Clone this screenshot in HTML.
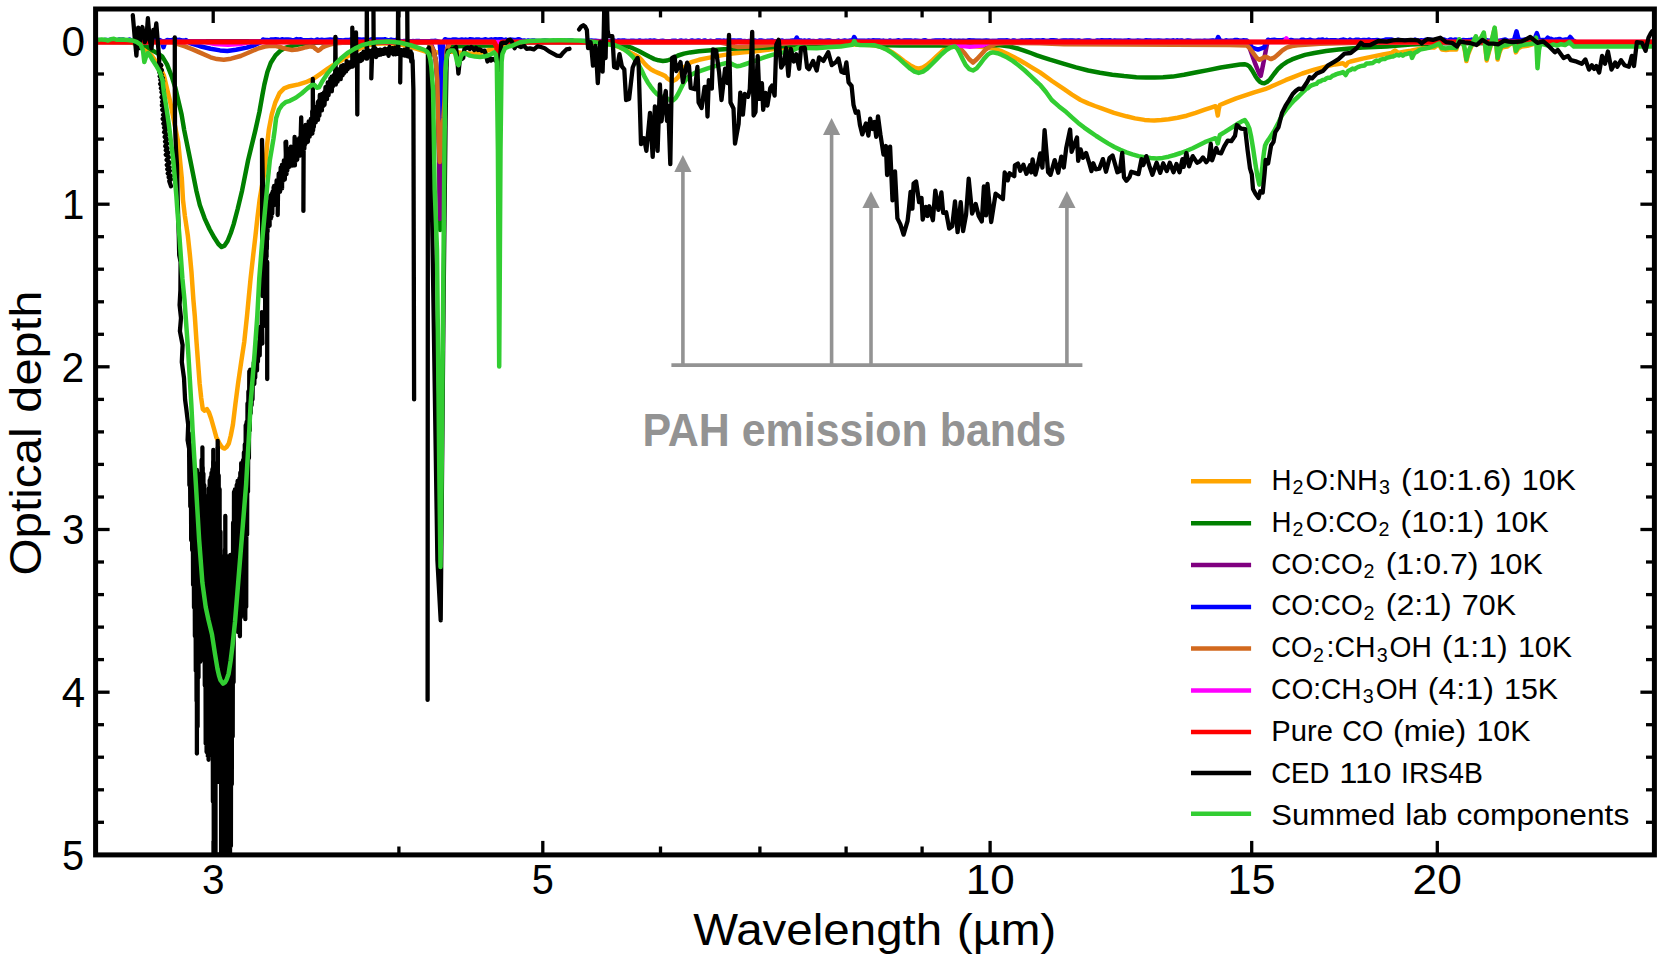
<!DOCTYPE html>
<html lang="en"><head><meta charset="utf-8"><title>Optical depth spectrum</title>
<style>html,body{margin:0;padding:0;background:#fff;}body{width:1661px;height:962px;overflow:hidden;}svg{display:block;}text{font-family:"Liberation Sans",sans-serif;}</style></head><body>
<svg width="1661" height="962" viewBox="0 0 1661 962">
<rect width="1661" height="962" fill="#fff"/>
<defs><clipPath id="ax"><rect x="95.6" y="9.0" width="1558.8" height="845.9"/></clipPath></defs>
<g stroke="#000" fill="none">
<line x1="213.2" y1="854.9" x2="213.2" y2="840.9" stroke-width="3.3"/>
<line x1="213.2" y1="9.0" x2="213.2" y2="23.0" stroke-width="3.3"/>
<line x1="542.8" y1="854.9" x2="542.8" y2="840.9" stroke-width="3.3"/>
<line x1="542.8" y1="9.0" x2="542.8" y2="23.0" stroke-width="3.3"/>
<line x1="990.1" y1="854.9" x2="990.1" y2="840.9" stroke-width="3.3"/>
<line x1="990.1" y1="9.0" x2="990.1" y2="23.0" stroke-width="3.3"/>
<line x1="1251.7" y1="854.9" x2="1251.7" y2="840.9" stroke-width="3.3"/>
<line x1="1251.7" y1="9.0" x2="1251.7" y2="23.0" stroke-width="3.3"/>
<line x1="1437.3" y1="854.9" x2="1437.3" y2="840.9" stroke-width="3.3"/>
<line x1="1437.3" y1="9.0" x2="1437.3" y2="23.0" stroke-width="3.3"/>
<line x1="398.9" y1="854.9" x2="398.9" y2="846.5" stroke-width="3.3"/>
<line x1="398.9" y1="9.0" x2="398.9" y2="17.4" stroke-width="3.3"/>
<line x1="660.5" y1="854.9" x2="660.5" y2="846.5" stroke-width="3.3"/>
<line x1="660.5" y1="9.0" x2="660.5" y2="17.4" stroke-width="3.3"/>
<line x1="759.9" y1="854.9" x2="759.9" y2="846.5" stroke-width="3.3"/>
<line x1="759.9" y1="9.0" x2="759.9" y2="17.4" stroke-width="3.3"/>
<line x1="846.1" y1="854.9" x2="846.1" y2="846.5" stroke-width="3.3"/>
<line x1="846.1" y1="9.0" x2="846.1" y2="17.4" stroke-width="3.3"/>
<line x1="922.1" y1="854.9" x2="922.1" y2="846.5" stroke-width="3.3"/>
<line x1="922.1" y1="9.0" x2="922.1" y2="17.4" stroke-width="3.3"/>
<line x1="95.6" y1="41.5" x2="109.6" y2="41.5" stroke-width="3.3"/>
<line x1="1654.4" y1="41.5" x2="1640.4" y2="41.5" stroke-width="3.3"/>
<line x1="95.6" y1="74.0" x2="104.0" y2="74.0" stroke-width="3.3"/>
<line x1="1654.4" y1="74.0" x2="1646.0" y2="74.0" stroke-width="3.3"/>
<line x1="95.6" y1="106.6" x2="104.0" y2="106.6" stroke-width="3.3"/>
<line x1="1654.4" y1="106.6" x2="1646.0" y2="106.6" stroke-width="3.3"/>
<line x1="95.6" y1="139.1" x2="104.0" y2="139.1" stroke-width="3.3"/>
<line x1="1654.4" y1="139.1" x2="1646.0" y2="139.1" stroke-width="3.3"/>
<line x1="95.6" y1="171.6" x2="104.0" y2="171.6" stroke-width="3.3"/>
<line x1="1654.4" y1="171.6" x2="1646.0" y2="171.6" stroke-width="3.3"/>
<line x1="95.6" y1="204.2" x2="109.6" y2="204.2" stroke-width="3.3"/>
<line x1="1654.4" y1="204.2" x2="1640.4" y2="204.2" stroke-width="3.3"/>
<line x1="95.6" y1="236.7" x2="104.0" y2="236.7" stroke-width="3.3"/>
<line x1="1654.4" y1="236.7" x2="1646.0" y2="236.7" stroke-width="3.3"/>
<line x1="95.6" y1="269.2" x2="104.0" y2="269.2" stroke-width="3.3"/>
<line x1="1654.4" y1="269.2" x2="1646.0" y2="269.2" stroke-width="3.3"/>
<line x1="95.6" y1="301.8" x2="104.0" y2="301.8" stroke-width="3.3"/>
<line x1="1654.4" y1="301.8" x2="1646.0" y2="301.8" stroke-width="3.3"/>
<line x1="95.6" y1="334.3" x2="104.0" y2="334.3" stroke-width="3.3"/>
<line x1="1654.4" y1="334.3" x2="1646.0" y2="334.3" stroke-width="3.3"/>
<line x1="95.6" y1="366.8" x2="109.6" y2="366.8" stroke-width="3.3"/>
<line x1="1654.4" y1="366.8" x2="1640.4" y2="366.8" stroke-width="3.3"/>
<line x1="95.6" y1="399.4" x2="104.0" y2="399.4" stroke-width="3.3"/>
<line x1="1654.4" y1="399.4" x2="1646.0" y2="399.4" stroke-width="3.3"/>
<line x1="95.6" y1="431.9" x2="104.0" y2="431.9" stroke-width="3.3"/>
<line x1="1654.4" y1="431.9" x2="1646.0" y2="431.9" stroke-width="3.3"/>
<line x1="95.6" y1="464.4" x2="104.0" y2="464.4" stroke-width="3.3"/>
<line x1="1654.4" y1="464.4" x2="1646.0" y2="464.4" stroke-width="3.3"/>
<line x1="95.6" y1="497.0" x2="104.0" y2="497.0" stroke-width="3.3"/>
<line x1="1654.4" y1="497.0" x2="1646.0" y2="497.0" stroke-width="3.3"/>
<line x1="95.6" y1="529.5" x2="109.6" y2="529.5" stroke-width="3.3"/>
<line x1="1654.4" y1="529.5" x2="1640.4" y2="529.5" stroke-width="3.3"/>
<line x1="95.6" y1="562.0" x2="104.0" y2="562.0" stroke-width="3.3"/>
<line x1="1654.4" y1="562.0" x2="1646.0" y2="562.0" stroke-width="3.3"/>
<line x1="95.6" y1="594.6" x2="104.0" y2="594.6" stroke-width="3.3"/>
<line x1="1654.4" y1="594.6" x2="1646.0" y2="594.6" stroke-width="3.3"/>
<line x1="95.6" y1="627.1" x2="104.0" y2="627.1" stroke-width="3.3"/>
<line x1="1654.4" y1="627.1" x2="1646.0" y2="627.1" stroke-width="3.3"/>
<line x1="95.6" y1="659.6" x2="104.0" y2="659.6" stroke-width="3.3"/>
<line x1="1654.4" y1="659.6" x2="1646.0" y2="659.6" stroke-width="3.3"/>
<line x1="95.6" y1="692.2" x2="109.6" y2="692.2" stroke-width="3.3"/>
<line x1="1654.4" y1="692.2" x2="1640.4" y2="692.2" stroke-width="3.3"/>
<line x1="95.6" y1="724.7" x2="104.0" y2="724.7" stroke-width="3.3"/>
<line x1="1654.4" y1="724.7" x2="1646.0" y2="724.7" stroke-width="3.3"/>
<line x1="95.6" y1="757.2" x2="104.0" y2="757.2" stroke-width="3.3"/>
<line x1="1654.4" y1="757.2" x2="1646.0" y2="757.2" stroke-width="3.3"/>
<line x1="95.6" y1="789.8" x2="104.0" y2="789.8" stroke-width="3.3"/>
<line x1="1654.4" y1="789.8" x2="1646.0" y2="789.8" stroke-width="3.3"/>
<line x1="95.6" y1="822.3" x2="104.0" y2="822.3" stroke-width="3.3"/>
<line x1="1654.4" y1="822.3" x2="1646.0" y2="822.3" stroke-width="3.3"/>
<line x1="95.6" y1="854.8" x2="109.6" y2="854.8" stroke-width="3.3"/>
<line x1="1654.4" y1="854.8" x2="1640.4" y2="854.8" stroke-width="3.3"/>
</g>
<g clip-path="url(#ax)" fill="none" stroke-linejoin="round" stroke-linecap="butt">
<polyline points="98.0,42.0 130.0,42.4 137.0,44.0 143.0,48.2 147.9,51.4 152.0,56.0 156.0,61.5 160.0,67.0 164.0,76.0 167.7,91.6 169.8,100.0 172.4,113.0 175.4,128.0 178.2,142.2 180.0,160.0 181.8,178.4 183.0,200.0 184.9,216.0 187.9,236.2 189.8,254.0 191.5,272.3 193.4,300.0 194.8,316.0 196.5,341.6 198.0,362.0 199.6,383.2 201.2,398.0 202.8,409.2 204.6,410.6 206.9,409.1 209.0,412.5 211.1,418.5 213.8,428.0 216.3,437.2 219.0,442.6 221.5,446.6 223.2,448.2 224.6,448.6 226.6,447.0 228.8,443.5 230.8,435.5 232.9,424.7 235.4,404.0 238.1,383.2 241.2,362.0 244.3,341.6 247.0,316.0 248.8,297.0 250.6,278.4 253.0,257.0 255.4,236.2 257.4,218.0 259.6,200.0 261.8,187.0 264.4,172.3 266.0,157.0 267.4,142.2 268.8,130.0 271.7,114.6 275.4,102.2 279.7,92.8 284.1,88.4 289.9,86.2 298.7,84.4 305.9,82.2 313.2,78.9 320.5,73.8 327.8,68.7 335.1,64.0 342.3,60.0 347.5,56.5 355.0,51.0 362.0,47.4 369.0,45.0 376.0,43.8 390.0,43.2 400.0,44.4 412.0,47.4 425.0,51.4 438.0,52.5 450.0,51.4 470.0,53.8 480.0,53.0 488.0,50.4 494.0,48.4 505.0,45.0 520.0,42.6 540.0,41.4 580.0,41.4 600.0,42.8 608.0,44.0 614.7,45.4 619.5,47.2 624.3,49.6 631.0,53.0 638.8,56.9 641.8,60.3 644.8,63.9 647.8,66.8 650.8,69.3 654.4,71.3 658.1,72.9 661.7,74.4 665.3,76.1 667.2,78.4 670.3,80.2 673.3,80.8 675.7,79.6 678.1,77.2 681.1,72.2 684.1,67.5 687.7,64.4 691.3,62.1 699.0,59.8 708.2,57.9 720.0,55.6 732.3,53.6 744.0,52.3 756.4,51.2 768.0,49.8 780.5,48.2 792.0,46.9 804.7,45.8 816.0,45.0 830.0,44.6 860.0,44.6 874.0,45.2 880.0,46.5 886.0,48.8 892.0,52.2 898.0,56.4 904.0,61.0 910.0,65.2 914.5,67.6 918.7,68.7 923.0,67.5 927.0,65.0 932.0,60.6 937.0,56.0 941.5,51.8 946.0,48.0 950.5,46.0 955.0,45.0 960.0,45.0 965.0,45.5 974.0,46.2 982.6,47.0 988.6,47.7 994.7,48.8 1000.7,50.9 1006.7,53.6 1012.7,56.5 1018.8,59.7 1024.8,63.2 1030.8,66.9 1040.0,72.4 1052.0,81.0 1064.1,89.2 1072.0,94.6 1080.6,100.0 1088.2,103.4 1095.0,106.0 1102.3,108.6 1114.0,112.8 1126.4,116.3 1135.0,118.4 1144.5,119.9 1149.4,120.3 1154.2,120.5 1161.4,120.1 1168.6,119.3 1177.6,117.8 1186.7,115.7 1195.7,112.8 1204.8,109.6 1210.3,107.8 1215.4,106.2 1216.6,109.0 1217.8,115.5 1218.8,109.0 1219.9,105.0 1228.0,101.6 1236.2,98.4 1245.2,95.4 1254.2,92.4 1265.0,89.2 1275.3,84.8 1285.5,80.2 1293.9,76.8 1302.3,73.5 1314.4,69.6 1326.4,66.3 1335.0,64.4 1343.0,63.2 1345.7,65.6 1348.0,62.5 1350.6,61.5 1362.6,58.6 1374.7,56.1 1383.0,54.5 1391.5,53.0 1393.4,51.5 1395.2,50.6 1396.6,51.6 1398.0,53.0 1404.4,51.6 1410.8,50.6 1416.8,49.4 1422.9,48.2 1430.0,47.6 1434.0,47.6 1438.9,44.1 1441.8,49.5 1446.0,50.0 1451.0,49.2 1456.3,49.5 1459.2,39.8 1461.2,42.2 1463.5,44.1 1465.0,51.6 1466.4,61.1 1468.0,54.6 1470.0,49.5 1473.0,42.6 1475.9,36.9 1478.0,44.1 1481.0,38.6 1483.8,33.2 1485.2,46.6 1486.7,60.4 1489.0,51.6 1491.1,44.1 1493.0,35.6 1494.7,28.2 1496.2,43.6 1497.6,59.6 1499.4,52.6 1501.3,48.0 1504.0,47.0 1507.1,46.6 1510.6,44.0 1514.3,42.7 1515.8,52.4 1518.0,48.6 1521.6,46.6 1527.4,45.8 1533.2,44.1" stroke="#ffa500" stroke-width="4.5" />
<polyline points="98.0,42.0 132.0,42.2 140.0,43.4 146.0,46.0 152.7,50.6 158.0,53.6 162.3,56.7 167.0,64.4 172.0,77.2 175.4,88.0 178.2,100.0 181.6,114.5 184.2,130.1 190.3,160.3 196.3,190.4 199.8,205.0 204.7,218.6 209.5,229.0 214.4,237.8 218.4,244.0 221.6,247.0 224.6,245.6 227.6,241.0 230.8,233.0 233.7,224.1 237.8,208.5 242.1,190.4 248.1,160.3 255.4,130.1 259.4,112.0 262.4,95.0 264.4,84.4 267.4,72.0 270.8,62.7 275.5,55.4 280.5,50.6 285.0,48.0 290.0,46.4 297.0,44.8 306.0,43.6 320.0,42.6 428.0,42.6 433.2,50.0 435.7,60.0 437.3,80.0 438.2,116.0 439.2,160.0 440.2,230.0 441.4,190.0 443.2,118.0 444.6,100.0 445.4,72.0 447.4,50.0 451.0,46.4 470.0,45.8 494.0,45.6 500.0,43.0 520.0,42.4 600.0,42.6 611.0,43.4 620.7,44.6 626.8,46.2 632.7,48.2 638.8,51.0 644.8,54.2 649.6,56.8 654.4,59.1 658.6,60.3 662.9,60.9 667.2,60.5 672.0,58.8 678.1,55.5 684.0,53.6 690.1,52.4 699.0,51.3 708.2,50.6 720.0,49.6 732.3,48.8 750.0,48.1 768.5,47.6 780.0,46.6 792.6,45.2 804.0,44.4 816.7,44.0 850.0,43.6 874.0,45.0 900.0,45.6 946.0,45.6 980.0,45.0 1000.7,45.2 1010.0,46.6 1018.8,48.8 1024.8,50.8 1030.8,53.0 1036.9,55.3 1042.9,57.3 1050.0,59.7 1064.1,63.9 1076.0,67.4 1088.2,70.5 1100.0,72.8 1112.3,74.7 1124.0,76.1 1136.4,77.2 1146.0,77.5 1154.5,77.5 1163.0,77.2 1172.6,76.6 1184.0,74.8 1196.7,72.3 1208.0,70.1 1220.8,67.5 1232.0,65.8 1240.0,64.5 1244.5,64.3 1247.0,64.9 1249.3,66.3 1252.3,70.6 1255.3,75.9 1257.7,79.4 1260.1,82.0 1262.3,83.0 1264.4,83.2 1267.0,82.0 1269.8,79.6 1274.0,74.0 1278.2,68.7 1282.4,65.0 1286.7,62.1 1292.0,59.4 1297.5,57.3 1305.0,54.9 1314.4,53.0 1326.0,51.0 1338.5,49.4 1350.0,48.4 1362.6,47.6 1386.7,46.4 1410.8,44.6 1440.0,43.2 1574.5,43.0 1652.0,43.0" stroke="#008000" stroke-width="4.5" />
<polyline points="98.0,41.3 430.0,41.3 433.4,50.0 435.8,60.0 437.4,80.0 438.4,116.0 439.2,160.0 440.0,219.0 441.4,170.0 443.2,118.0 444.6,100.0 445.4,72.0 447.0,50.0 449.0,41.3 1246.0,40.9 1249.3,47.0 1255.3,63.9 1259.2,73.5 1260.7,75.9 1262.0,70.0 1264.4,57.9 1266.8,45.2 1268.0,40.9 1574.5,40.9 1576.0,43.4 1652.0,43.4" stroke="#800080" stroke-width="4.5" />
<polyline points="98.0,40.0 100.1,40.2 102.2,40.7 104.3,40.1 106.4,40.1 108.5,40.2 110.6,39.7 112.7,40.1 114.8,40.3 116.9,40.5 119.0,39.5 121.1,39.8 123.2,39.5 125.3,40.5 127.4,40.4 129.5,39.5 131.6,40.8 133.7,40.8 135.8,40.3 137.9,40.3 140.0,39.6 142.1,39.4 144.2,40.1 146.3,39.5 148.4,39.7 150.5,39.7 152.6,39.4 154.7,40.0 156.8,40.0 158.9,40.6 160.0,40.1 161.5,41.0 163.5,47.2 165.5,41.0 167.0,40.1 169.1,40.3 171.2,40.3 173.3,39.6 175.4,39.4 177.5,39.9 179.6,39.8 181.7,40.5 183.8,40.4 185.9,40.2 186.0,40.1 190.0,43.0 200.0,46.2 210.6,48.8 220.0,50.4 227.4,50.9 236.0,49.8 246.7,47.6 255.0,45.0 261.2,42.0 263.0,39.5 265.1,40.1 267.2,40.1 269.3,40.3 271.4,39.4 273.5,39.4 275.6,39.3 277.7,39.4 279.8,40.1 281.9,39.3 284.0,39.8 286.1,39.4 288.2,39.5 290.3,39.7 292.4,40.3 294.5,40.0 296.6,39.1 298.7,39.5 300.8,39.3 302.9,40.3 305.0,40.2 307.1,40.2 309.2,40.3 311.3,40.1 313.4,40.4 315.5,40.2 317.6,39.5 319.7,40.3 321.8,39.8 323.9,40.2 326.0,39.9 328.1,39.7 330.2,39.6 332.3,39.7 334.4,39.5 336.5,39.3 338.6,40.2 340.7,40.2 342.8,40.5 344.9,40.1 347.0,39.9 349.1,40.1 351.2,39.3 353.3,40.0 355.4,39.7 357.5,39.3 359.6,39.4 361.7,39.8 363.8,39.5 365.9,39.7 368.0,39.9 370.1,39.7 372.2,39.3 374.3,39.8 376.4,39.4 378.5,39.4 380.6,39.4 382.7,39.6 384.8,39.2 386.9,40.0 389.0,40.4 391.1,39.6 393.2,40.1 395.3,40.4 397.4,39.2 398.0,39.8 400.0,41.1 402.1,41.4 404.2,40.9 406.3,41.0 408.4,41.1 410.5,41.5 412.6,41.1 414.7,41.3 416.8,40.9 418.9,40.9 421.0,41.4 423.1,41.2 425.2,41.4 427.3,41.2 429.4,41.2 431.5,41.0 433.6,41.0 435.7,40.8 437.0,41.2 439.6,42.0 441.1,60.0 441.4,118.0 441.7,60.0 443.2,42.0 445.0,39.2 447.1,39.9 449.2,39.9 451.3,40.2 453.4,39.4 455.5,39.4 457.6,40.0 459.7,39.9 461.8,39.5 463.9,39.9 466.0,39.6 468.1,40.0 470.2,39.2 472.3,39.4 474.4,40.2 476.5,39.5 478.6,39.4 480.7,40.1 482.8,39.9 484.9,39.3 487.0,39.8 489.1,39.9 491.2,39.3 493.3,39.9 495.4,39.2 497.5,39.5 499.6,39.2 501.7,39.3 503.8,40.3 505.9,39.6 508.0,40.3 510.1,39.6 512.2,39.8 514.3,40.1 516.4,39.9 518.5,39.2 520.0,39.7 522.0,40.9 524.1,40.4 526.2,41.2 528.3,40.5 530.4,41.1 532.5,40.4 534.6,40.6 536.7,41.0 538.8,41.1 540.9,41.3 543.0,40.8 545.1,40.6 547.2,40.7 549.3,41.2 551.4,41.2 553.5,40.6 555.6,41.2 557.7,40.7 559.8,40.6 561.9,41.2 564.0,40.6 566.1,40.9 568.2,40.6 570.3,40.6 572.4,40.5 574.5,41.3 576.6,41.2 578.7,41.2 580.8,41.1 582.9,41.0 585.0,40.9 587.1,41.0 589.2,40.8 591.3,40.5 593.4,40.7 595.5,40.7 597.6,41.0 599.7,41.3 601.8,40.9 603.9,40.8 606.0,40.7 608.1,41.0 610.2,41.1 612.3,40.9 614.4,40.6 616.5,41.3 618.6,40.4 620.7,40.7 622.8,40.4 624.9,40.6 627.0,41.0 629.1,41.1 631.2,40.7 633.3,40.7 635.4,41.0 637.5,41.1 639.6,40.4 641.7,41.1 643.8,40.9 645.9,40.8 648.0,40.9 650.1,40.5 652.2,41.0 654.3,40.5 656.4,41.1 658.5,41.4 660.6,41.0 662.7,40.8 664.8,41.2 666.9,41.4 669.0,41.2 671.1,41.0 673.2,40.7 675.3,40.7 677.4,41.4 679.5,40.8 681.6,40.6 683.7,41.1 685.8,40.7 687.9,41.4 690.0,41.0 692.1,40.5 694.2,41.1 696.3,41.0 698.4,40.4 700.5,41.0 702.6,41.2 704.7,40.4 706.8,41.4 708.9,41.3 711.0,40.8 713.1,41.4 715.2,41.4 717.3,40.4 719.4,40.4 721.5,41.0 723.6,40.6 725.7,40.9 727.8,40.6 729.9,40.7 732.0,40.5 734.1,40.6 736.2,40.8 738.3,40.6 740.4,40.4 742.5,41.3 744.6,40.9 746.7,41.4 748.8,40.9 750.9,41.1 753.0,40.8 755.1,40.5 757.2,41.4 759.3,40.6 761.4,40.5 763.5,40.9 765.6,41.3 767.7,40.7 769.8,40.7 771.9,40.4 774.0,41.4 776.1,41.4 778.2,41.1 780.3,41.0 782.4,40.5 784.5,41.3 786.6,40.9 788.7,41.1 790.8,40.7 792.9,40.5 795.0,40.9 796.8,37.6 798.5,41.4 800.6,40.4 802.7,41.2 804.8,40.5 806.9,41.4 809.0,40.4 811.1,41.3 813.2,41.1 815.3,41.3 817.4,41.4 819.5,40.6 821.6,40.7 823.7,41.1 825.8,40.7 827.9,40.6 830.0,40.6 832.1,41.3 834.2,41.3 836.3,41.2 838.4,40.6 840.5,41.4 842.6,40.9 844.7,40.6 846.8,40.9 848.9,40.8 851.0,40.4 852.5,40.9 854.2,37.0 856.0,40.6 858.1,40.8 860.2,40.7 862.3,40.7 864.4,40.7 866.5,41.0 868.6,40.5 870.7,40.9 872.8,40.3 874.9,40.6 877.0,40.6 879.1,40.4 881.2,41.1 883.3,40.6 885.4,41.1 887.5,41.3 889.6,40.5 891.7,41.2 893.8,41.1 895.9,41.0 898.0,40.3 900.1,40.8 902.2,40.9 904.3,40.6 906.4,40.5 908.5,40.6 910.6,40.5 912.7,41.1 914.8,40.6 916.9,40.7 919.0,41.0 921.1,41.3 923.2,40.6 925.3,40.3 927.4,41.3 929.5,41.2 931.6,41.1 933.7,40.8 935.8,40.5 937.9,40.4 940.0,40.6 942.1,40.8 944.2,40.3 946.3,41.0 948.4,41.1 950.5,40.3 952.6,41.2 954.7,40.8 956.8,41.3 958.9,40.8 961.0,41.1 963.1,40.7 965.2,40.9 967.3,40.8 969.4,40.3 971.5,40.4 973.6,40.5 975.7,40.7 977.8,40.7 979.9,40.8 982.0,41.0 984.1,40.7 986.2,40.6 988.3,40.8 990.4,41.3 992.5,41.1 994.6,41.0 996.7,41.1 998.8,40.5 1000.9,40.4 1003.0,40.4 1005.1,40.4 1007.2,40.3 1009.3,40.9 1011.4,41.3 1013.5,40.4 1015.6,41.0 1017.7,41.3 1019.8,41.1 1021.9,40.4 1024.0,41.0 1026.1,40.5 1028.2,40.4 1030.3,40.3 1032.4,40.8 1034.5,41.3 1036.6,40.4 1038.7,40.4 1040.8,40.7 1042.9,40.3 1045.0,40.8 1047.1,41.1 1049.2,40.8 1051.3,40.3 1053.4,40.3 1055.5,40.5 1057.6,41.0 1059.7,41.3 1061.8,40.8 1063.9,40.4 1066.0,40.5 1068.1,40.7 1070.2,40.4 1072.3,40.4 1074.4,40.7 1076.5,41.2 1078.6,40.5 1080.7,41.2 1082.8,41.2 1084.9,40.7 1087.0,40.5 1089.1,40.5 1091.2,41.0 1093.3,41.2 1095.4,41.2 1097.5,40.5 1099.6,40.7 1101.7,40.3 1103.8,40.6 1105.9,40.6 1108.0,40.4 1110.1,40.3 1112.2,41.3 1114.3,40.6 1116.4,40.8 1118.5,40.8 1120.6,40.8 1122.7,40.9 1124.8,40.8 1126.9,40.8 1129.0,40.3 1131.1,40.9 1133.2,41.0 1135.3,41.0 1137.4,40.6 1139.5,40.8 1141.6,41.1 1143.7,41.1 1145.8,40.3 1147.9,40.6 1150.0,40.4 1152.1,41.0 1154.2,40.7 1156.3,40.7 1158.4,40.5 1160.5,40.7 1162.6,41.0 1164.7,40.9 1166.8,40.5 1168.9,40.7 1171.0,40.9 1173.1,40.3 1175.2,41.2 1177.3,40.3 1179.4,40.9 1181.5,40.4 1183.6,41.3 1185.7,41.0 1187.8,40.5 1189.9,40.8 1192.0,41.2 1194.1,41.2 1196.2,41.0 1198.3,41.0 1200.4,41.1 1202.5,41.3 1204.6,40.8 1206.7,40.9 1208.8,41.1 1210.9,40.8 1213.0,40.5 1215.1,40.9 1216.5,40.8 1218.2,37.0 1220.0,40.6 1222.1,41.0 1224.2,41.2 1226.3,40.3 1228.4,40.9 1230.5,40.8 1232.6,40.8 1234.7,40.1 1236.8,40.0 1238.9,40.5 1241.0,40.9 1243.1,40.3 1245.2,40.6 1247.0,40.6 1249.5,43.0 1252.0,47.5 1258.0,49.6 1264.0,47.5 1266.5,42.0 1268.0,39.7 1270.1,40.5 1272.2,39.9 1274.3,39.7 1276.4,40.2 1278.5,40.2 1280.6,40.2 1282.7,40.1 1284.8,39.8 1286.9,39.8 1289.0,40.5 1291.1,39.9 1293.2,40.5 1295.3,40.7 1297.4,40.8 1299.5,40.9 1301.6,39.8 1303.7,39.8 1305.8,40.6 1307.9,40.3 1310.0,39.7 1312.1,40.5 1314.2,40.8 1316.3,40.7 1318.4,39.7 1320.5,39.9 1322.6,39.4 1324.7,41.0 1326.8,39.8 1328.9,40.6 1331.0,40.3 1333.1,40.3 1335.2,40.2 1337.3,40.7 1339.4,40.4 1341.5,39.9 1343.6,39.6 1345.7,40.2 1347.8,40.9 1349.9,39.6 1352.0,40.5 1354.1,40.4 1356.2,39.7 1358.3,39.7 1360.4,40.5 1362.5,40.1 1364.6,40.1 1366.7,40.2 1368.8,39.6 1370.9,40.5 1373.0,40.3 1375.1,40.3 1377.2,39.9 1379.3,40.7 1381.4,40.7 1383.5,40.3 1385.6,39.5 1387.7,39.6 1389.8,39.6 1391.9,39.5 1394.0,40.4 1396.1,40.3 1398.2,39.7 1400.3,40.9 1402.4,40.4 1404.5,40.7 1406.6,40.7 1408.7,40.5 1410.8,40.2 1412.9,41.0 1415.0,39.6 1417.1,40.5 1419.2,40.8 1421.3,40.2 1423.4,40.7 1425.5,39.7 1427.6,40.1 1429.7,39.8 1431.8,40.0 1433.9,40.5 1436.0,39.6 1438.1,39.9 1440.2,40.8 1442.3,39.9 1444.4,39.6 1446.5,41.0 1448.6,40.3 1450.7,39.4 1452.8,40.3 1454.9,39.6 1457.0,39.7 1459.1,40.6 1461.2,40.4 1463.3,40.1 1465.4,40.2 1467.5,40.3 1469.6,40.1 1471.7,39.6 1473.8,40.6 1475.9,40.6 1478.0,40.1 1480.1,40.0 1482.2,40.4 1484.3,40.2 1486.4,40.1 1488.5,40.8 1490.6,40.8 1492.7,39.6 1494.8,39.7 1496.9,40.7 1499.0,40.9 1501.1,40.6 1503.2,39.9 1505.3,39.5 1507.4,40.7 1509.5,40.9 1511.6,40.6 1513.7,40.6 1514.0,40.2 1515.8,34.0 1516.5,31.4 1517.2,34.0 1518.4,38.6 1520.0,39.9 1522.1,40.1 1524.2,39.6 1526.3,39.6 1528.4,39.4 1530.5,40.5 1532.6,39.2 1534.6,39.6 1536.1,35.0 1536.8,33.2 1537.5,35.0 1538.6,39.0 1540.5,40.3 1542.6,39.9 1544.7,40.1 1546.0,39.6 1547.7,37.6 1549.5,39.4 1551.0,38.8 1553.1,39.7 1555.2,39.6 1557.3,39.4 1559.4,38.9 1561.5,39.9 1563.6,40.0 1565.7,39.4 1567.8,39.4 1568.5,39.4 1570.2,37.0 1572.0,39.2 1574.5,42.9 1652.0,43.0" stroke="#0000ff" stroke-width="4.5" />
<polyline points="98.0,42.2 172.0,42.2 178.0,44.0 185.0,46.4 192.6,49.4 200.0,52.6 210.6,57.3 217.0,59.1 223.8,59.7 231.0,58.7 240.7,56.0 250.0,52.0 258.8,48.2 265.0,46.6 270.8,45.8 276.0,46.1 280.0,47.0 286.0,48.9 292.0,50.0 297.0,49.6 302.0,48.4 306.0,47.2 310.1,46.4 313.5,47.0 316.0,49.2 318.3,50.8 320.5,49.2 322.5,47.4 324.6,46.4 329.0,44.8 334.0,43.6 345.0,42.4 426.0,42.4 430.0,44.0 433.2,50.0 435.7,60.0 437.3,80.0 438.2,116.0 438.8,140.0 439.7,162.0 441.6,135.0 443.4,118.0 444.6,100.0 445.4,72.0 447.0,50.0 450.0,42.4 720.0,42.6 727.5,44.0 734.7,46.4 738.4,47.1 744.4,46.8 752.0,46.4 762.5,45.8 775.0,44.2 790.0,43.0 940.0,43.0 950.0,43.4 956.0,45.2 960.0,48.4 964.5,53.0 969.0,59.0 973.0,62.7 977.0,59.0 981.4,54.2 985.6,49.6 989.8,46.4 996.0,43.8 1005.0,43.0 1040.0,43.2 1064.0,44.3 1230.0,44.9 1246.9,45.6 1249.6,48.0 1254.1,54.2 1257.0,58.2 1259.5,59.7 1262.4,58.2 1265.0,56.7 1268.0,57.7 1271.0,59.1 1274.6,57.4 1278.2,54.2 1282.4,50.4 1286.7,47.6 1292.0,46.0 1297.5,45.2 1320.0,43.8 1360.0,42.8 1574.5,42.4 1652.0,42.6" stroke="#d2691e" stroke-width="4.5" />
<polyline points="98.0,42.0 205.0,42.0 215.0,44.0 228.0,44.8 240.0,44.0 250.0,42.0 950.0,42.0 958.0,45.6 970.0,46.8 982.0,45.6 990.0,42.0 1284.4,42.0 1285.8,39.4 1286.4,38.4 1287.0,39.4 1288.4,42.0 1652.0,42.0" stroke="#ff00ff" stroke-width="4.5" />
<polyline points="98.0,41.9 494.1,41.9 496.6,47.0 498.6,65.7 500.4,47.0 502.0,41.9 1652.0,41.9" stroke="#ff0000" stroke-width="5.0" />
<polyline points="132.8,15.1 134.6,36.0 136.4,55.5 138.2,27.7 139.4,48.2 140.6,31.0 142.4,27.1 144.8,42.2 146.6,36.0 147.9,18.1 149.7,40.0 151.5,48.2 153.3,30.0 154.8,36.0 156.3,23.5 157.8,42.0 159.3,60.3 158.8,63.0 161.4,65.4 159.1,67.6 161.9,70.2 159.3,72.4 161.6,74.3 159.6,76.3 162.7,78.0 160.3,79.9 163.2,81.5 160.1,84.0 162.7,86.3 160.8,88.3 163.8,90.1 161.4,92.1 163.5,94.7 161.5,97.4 164.1,99.7 162.1,101.8 164.8,103.5 161.8,105.4 165.2,107.2 162.2,109.9 165.2,112.4 163.0,114.9 165.7,117.1 162.6,118.9 165.6,121.6 163.3,123.6 166.4,125.7 164.0,127.7 166.5,129.4 164.0,132.2 166.7,134.4 164.6,136.9 167.1,139.3 165.0,141.6 167.2,143.4 165.2,146.1 167.6,148.4 165.7,150.2 168.4,152.7 165.7,154.8 169.0,157.2 166.5,159.9 169.7,162.7 166.7,165.0 169.7,167.2 167.2,169.1 169.9,170.9 167.7,173.5 171.0,175.7 168.6,177.3 171.1,179.3 169.2,181.1 170.6,185.0 171.0,186.2" stroke="#000" stroke-width="4.3" stroke-linecap="round"/>
<polyline points="174.8,37.4 174.8,90.0 175.0,125.0 176.0,150.0 177.0,165.0 177.4,184.4 177.7,200.0 178.8,236.0 179.2,255.0 180.6,262.0 180.4,290.0 179.6,305.0 181.0,318.0 179.9,331.2 182.6,345.0 181.8,362.0 184.0,378.0 185.1,399.8 186.2,408.0 188.2,424.7 187.6,440.0 189.8,452.0 191.3,476.7" stroke="#000" stroke-width="4.3" stroke-linecap="round"/>
<polyline points="189.0,433.3 189.4,485.2 189.9,444.2 190.3,506.6 190.8,456.8 191.2,540.2 191.7,457.2 192.2,550.3 192.6,469.6 193.1,585.1 193.5,487.4 194.0,607.5 194.4,491.5 194.9,636.2 195.3,495.0 195.8,670.9 196.2,501.3 196.7,701.1 197.1,504.4 197.6,726.5 198.0,498.1 198.5,677.5 198.9,490.9 199.4,653.2 199.8,476.1 200.3,661.8 200.7,473.3 201.2,652.3 201.6,459.9 202.1,639.7 202.5,467.8 203.0,629.0 203.4,473.6 203.9,644.8 204.3,485.2 204.8,685.5 205.2,503.1 205.7,743.7 206.1,500.6 206.6,752.1 207.0,506.4 207.5,749.5 207.9,495.9 208.4,753.3 208.8,488.4 209.3,752.7 209.7,480.2 210.2,748.2 210.6,477.4 211.1,741.6 211.5,472.8 212.0,740.3 212.4,469.2 212.9,801.6 213.3,462.0 213.8,872.1 214.2,471.8 214.7,857.6 215.1,479.5 215.6,864.8 216.0,473.5 216.5,871.2 216.9,463.4 217.4,864.7 217.8,447.6 218.3,873.9 218.7,475.4 219.2,857.2 219.6,489.2 220.1,860.6 220.5,531.7 221.0,872.3 221.4,556.1 221.9,861.2 222.3,564.2 222.8,874.2 223.2,560.6 223.7,874.2 224.1,562.1 224.6,869.0 225.0,549.9 225.5,857.3 225.9,559.1 226.4,857.0 226.8,556.8 227.3,873.6 227.7,561.3 228.2,874.4 228.6,556.1 229.1,867.7 229.5,562.3 230.0,872.2 230.4,554.8 230.9,846.0 231.3,559.1 231.8,784.3 232.2,560.6 232.7,736.5 233.1,522.7 233.6,682.3 234.0,492.0 234.5,629.3 234.9,489.5 235.4,628.2 235.8,493.5 236.3,629.7 236.7,485.0 237.2,625.3 237.6,480.9 238.1,632.2 238.5,488.5 239.0,627.7 239.4,478.5 239.9,636.3 240.3,472.7 240.8,617.5 241.2,463.1 241.7,602.1 242.1,467.7 242.6,600.1 243.0,460.2 243.5,603.2 243.9,452.5 244.4,615.7 244.8,444.5 245.3,619.2 245.7,425.2 246.2,607.0 246.6,421.9 247.1,534.7 247.5,403.5 248.0,491.8 248.4,391.4 248.9,458.2 249.3,371.3 249.8,430.4 250.2,369.7 250.7,413.3 251.1,371.5 251.6,405.2 252.0,380.8 252.5,399.5 252.9,372.0 253.4,380.8 253.8,362.3 254.3,384.0 254.7,363.3 255.2,377.7 255.6,349.7 256.1,369.1 256.5,352.5 257.0,370.5 257.4,342.9 257.9,361.7 258.3,345.8 258.8,355.2 259.2,340.9 259.7,355.5 260.1,327.0 260.6,342.6 261.0,328.0 261.5,341.9 261.9,312.1 262.4,343.5" stroke="#000" stroke-width="4.3" stroke-linecap="round"/>
<polyline points="265.7,326.2 265.8,303.1 265.8,324.9 265.5,307.5 265.6,324.3 265.2,297.5 265.3,317.8 265.5,298.2 265.2,311.4 265.8,298.2 265.2,315.6 265.2,291.3 265.1,312.0 265.7,295.9 265.2,306.0 265.7,284.9 265.8,304.4 265.6,286.5 265.8,301.2 265.8,282.8 265.2,304.9 265.1,283.3 265.1,296.0 262.0,139.8 262.3,296.0 265.5,281.5 265.6,292.4 265.3,278.8 265.4,297.3 265.4,276.7 265.1,293.9 265.1,268.6 265.8,292.0 265.7,274.7 265.6,286.3 265.2,272.4 265.9,282.4 265.8,268.5 265.9,286.6 265.5,264.8 265.8,280.7 265.8,264.6 265.9,280.8 266.0,262.9 265.5,272.3 266.0,255.5 266.0,272.2 265.5,253.8 265.5,269.6 265.4,255.6 266.1,270.6 265.4,252.5 265.8,270.9 265.6,248.0 266.0,265.1 265.7,245.3 266.2,258.0 265.9,246.6 265.7,262.5 266.4,238.1 266.3,258.3 266.1,241.2 266.5,251.7 266.2,237.2 266.6,256.8 266.3,228.8 266.6,250.0 266.3,230.8 266.3,246.8 267.0,229.4 266.8,249.3 266.6,225.9 266.6,239.3 267.1,221.1 267.1,239.3 267.1,218.7 267.2,239.6 267.2,220.0 267.1,233.9 267.3,214.0 267.6,231.6 267.3,212.7 267.4,226.8 267.5,213.8 267.7,228.4 267.7,208.0 268.0,225.0 268.5,204.9 268.8,222.7 269.1,201.4 269.6,225.8 269.6,202.1 270.2,216.4 270.3,196.1 270.8,218.7 270.7,195.6 271.4,217.1 271.6,193.8 272.3,213.4 272.6,191.7 272.5,205.8 273.2,191.1 273.7,205.2 273.6,187.2 274.2,205.1 274.1,186.0 274.4,205.1 274.5,189.9 275.0,201.4 275.3,186.4 276.0,200.3 276.6,180.5 277.3,196.0 277.3,183.5 277.8,194.0 277.7,215.0 278.0,194.0 278.5,180.2 278.3,192.5 278.7,173.7 279.3,191.7 280.2,171.8 280.1,191.8 280.7,167.6 280.7,185.7 281.4,167.2 282.1,188.4 281.9,164.9 282.0,185.6 282.9,166.9 282.9,181.0 283.9,160.3 283.9,176.7 284.1,161.5 284.8,179.5 285.9,153.3 285.5,142.2 285.8,153.3 286.0,174.2 286.2,141.7 286.5,174.2 286.8,151.1 287.3,170.6 288.0,149.0 288.6,167.4 289.4,154.1 289.7,166.6 290.9,146.7 291.4,161.2 292.5,149.1 292.7,165.6 293.4,147.3 294.2,165.4 294.6,137.0 294.9,165.4 295.1,142.6 296.0,160.7 296.3,139.7 297.2,159.7 298.0,139.5 298.8,153.9 299.3,138.1 300.2,155.5 300.6,139.5 301.2,117.4 301.5,139.5 301.8,151.1 302.2,130.6 303.1,145.5 303.6,132.3 303.4,210.9 303.7,132.3 304.3,148.9 305.2,129.9 305.3,144.2 305.6,124.8 306.6,141.3 307.0,128.9 307.2,142.2 307.9,125.0 307.9,141.7 308.7,121.3 309.0,136.3 309.6,121.7 309.7,136.5 310.8,118.9 311.1,134.2 311.7,118.5 312.4,133.5 312.2,111.2 312.8,130.3 312.8,79.0 313.1,130.3 313.9,109.6 313.8,127.2 314.9,110.3 315.2,120.8 315.3,107.3 315.7,122.3 316.6,107.5 316.8,116.0 317.9,101.9 318.0,119.9 318.7,100.9 319.4,115.7 319.8,95.0 320.7,109.4 321.1,98.8 321.9,110.4 322.1,94.0 322.6,106.4 323.3,94.1 323.3,105.8 324.0,92.3 324.5,104.9 325.5,87.2 326.1,98.2 326.3,89.2 327.0,99.1 327.8,82.4 328.6,95.1 329.2,85.7 329.3,91.4 330.4,78.5 330.5,90.2 331.6,76.7 331.8,91.3 332.6,76.9 333.1,86.0 333.8,75.2 334.2,84.6 335.2,72.3 335.4,36.8 335.7,72.3 335.8,84.6 336.7,70.6 337.6,81.7 338.2,69.5 338.7,77.5 339.5,70.3 340.7,79.2 341.1,66.2 342.6,75.4 343.2,65.2 343.9,73.6 344.8,65.7 346.0,71.5 346.7,61.1 347.7,69.3 348.7,62.5 349.8,67.5 351.2,61.6 352.3,66.6 352.3,27.7 352.6,66.6 353.2,57.7 354.4,65.4 355.3,58.5 356.4,63.2 356.0,32.5 356.3,63.2 357.0,54.9 357.3,114.6 357.6,54.9 357.9,61.6 359.0,55.6 360.7,61.0 361.2,54.0 362.2,60.0 363.6,51.7 364.2,57.7 366.0,51.1 366.7,58.7 366.8,0.0 367.1,58.7 367.6,49.5 369.4,56.2 370.0,50.8 372.0,57.1 371.3,78.4 371.6,57.1 372.7,49.9 373.7,55.0 373.4,0.0 373.7,55.0 375.2,48.2 376.0,57.0 377.3,49.8 378.5,55.1 380.0,49.6 380.9,54.6 382.8,50.0 383.7,53.9 384.9,48.6 385.9,53.4 387.3,49.3 388.6,55.8 389.5,46.9 390.9,53.1 392.2,48.2 393.4,54.4 394.8,47.7 395.7,54.3 396.7,47.5 397.9,53.9 398.1,0.0 398.4,53.9 399.5,50.0 400.4,56.2 400.2,82.6 400.5,56.2 401.4,50.2 402.6,55.1 404.2,49.8 405.0,55.7 406.2,49.5 407.6,56.2 407.2,0.0 407.5,56.2 408.7,51.1 410.1,57.5 410.7,51.3 411.3,61.7 411.7,53.4 412.4,62.6 412.6,60.3 413.4,90.0 414.1,399.4" stroke="#000" stroke-width="4.3" stroke-linecap="round"/>
<polyline points="427.6,699.9 427.8,300.0 427.9,49.0 429.0,47.6 430.2,60.0 430.6,120.0 433.4,300.0 437.4,560.0 440.7,620.4 443.6,300.0 445.6,120.0 446.6,62.0 447.6,50.6 449.4,51.6 451.2,49.4 453.6,49.2 456.0,47.0 457.2,58.0 458.4,73.5 459.6,62.0 460.8,57.9 462.0,59.0 463.2,57.9 464.4,49.4 466.0,48.0 468.0,47.6 469.6,49.0 471.2,47.0 472.8,48.2 474.4,50.0 476.0,47.8 478.0,50.0 480.0,49.4 482.0,51.0 484.5,50.6 486.0,55.0 487.5,61.5 489.3,57.0 491.0,60.5 492.9,59.0 495.0,60.0 497.0,62.0 499.0,70.0 501.3,43.4 503.6,42.6 506.0,43.0 508.6,39.8 510.4,40.0 512.2,42.2 514.6,48.2 516.4,45.0 518.2,45.8 521.0,47.0 524.2,45.8 526.7,48.8 530.0,48.4 533.9,49.4 537.5,46.4 541.0,47.0 544.7,48.2 549.0,51.4 553.2,53.6 556.8,55.6 560.4,56.1 563.4,52.4 566.4,49.4 569.5,48.8" stroke="#000" stroke-width="4.3" stroke-linecap="round"/>
<polyline points="196.9,470.0 196.9,753.5" stroke="#000" stroke-width="4.3" stroke-linecap="round"/>
<polyline points="201.2,560.0 201.2,660.0" stroke="#000" stroke-width="4.3" stroke-linecap="round"/>
<polyline points="208.6,600.0 208.6,759.8" stroke="#000" stroke-width="4.3" stroke-linecap="round"/>
<polyline points="202.4,447.5 202.8,600.0" stroke="#000" stroke-width="4.3" stroke-linecap="round"/>
<polyline points="217.7,441.0 217.9,620.0" stroke="#000" stroke-width="4.3" stroke-linecap="round"/>
<polyline points="213.3,450.0 213.5,620.0" stroke="#000" stroke-width="4.3" stroke-linecap="round"/>
<polyline points="225.3,516.0 225.3,560.0" stroke="#000" stroke-width="4.3" stroke-linecap="round"/>
<polyline points="267.2,262.0 267.2,379.0" stroke="#000" stroke-width="4.3" stroke-linecap="round"/>
<polyline points="209.0,620.0 209.0,757.0" stroke="#000" stroke-width="6.5" />
<polyline points="212.5,600.0 212.5,757.0" stroke="#000" stroke-width="6.5" />
<polyline points="229.5,600.0 229.5,757.0" stroke="#000" stroke-width="6.5" />
<polyline points="215.6,560.0 215.6,875.0" stroke="#000" stroke-width="6.5" />
<polyline points="220.6,560.0 220.6,875.0" stroke="#000" stroke-width="6.5" />
<polyline points="224.6,560.0 224.6,875.0" stroke="#000" stroke-width="6.5" />
<polyline points="227.3,560.0 227.3,875.0" stroke="#000" stroke-width="6.5" />
<line x1="218.3" y1="784" x2="218.3" y2="852.4" stroke="#fff" stroke-width="1.3"/>
<polyline points="98.0,40.0 101.5,39.4 105.0,39.7 108.0,40.5 111.0,39.2 114.0,38.8 117.0,39.8 122.0,39.6 128.0,40.0 132.0,40.4 136.5,41.8 140.6,44.6 143.0,50.6 144.3,62.0 145.7,57.5 147.9,53.0 150.3,56.0 152.7,60.3 156.4,66.0 160.0,72.3 162.6,80.6 163.8,91.6 165.2,100.0 167.2,113.0 168.8,124.1 171.0,142.0 173.3,160.3 176.4,196.4 177.2,208.0 179.4,236.2 182.4,278.4 184.5,300.0 188.2,352.0 191.3,404.0 192.6,430.0 195.9,484.6 199.1,539.2 202.4,582.8 205.7,607.0 208.5,620.0 212.0,634.5 215.0,654.0 217.4,668.5 219.0,675.5 220.5,680.2 223.1,683.6 225.0,682.4 226.6,679.6 228.6,673.7 230.6,661.0 232.6,645.0 235.0,622.0 237.3,593.8 241.7,539.2 246.1,484.6 249.3,430.0 250.6,404.0 254.7,352.0 257.3,316.0 259.3,278.4 262.6,236.2 265.5,205.0 267.4,184.4 269.8,160.3 273.5,138.6 274.7,130.0 276.1,118.2 279.0,109.5 282.2,105.0 285.6,102.2 289.9,100.8 295.8,97.8 301.6,93.5 307.4,88.4 311.8,85.1 314.7,85.1 316.9,87.7 319.0,87.3 322.0,81.8 327.8,73.1 335.1,64.4 339.4,60.0 340.8,58.6 347.5,53.0 354.8,48.6 362.0,45.2 369.0,43.3 376.4,42.2 388.5,41.6 400.5,42.8 412.6,45.8 418.6,47.8 424.7,50.0 427.2,51.8 428.9,54.2 430.2,59.0 431.3,66.3 433.1,90.4 434.7,190.0 437.0,250.0 439.4,480.0 440.5,567.0 441.6,480.0 443.6,250.0 444.5,144.0 444.9,116.0 445.5,72.3 446.2,61.0 447.0,55.5 448.4,52.2 450.0,50.6 453.6,50.6 455.0,53.0 456.0,56.7 457.2,62.5 458.4,65.1 459.6,62.0 460.8,56.7 462.4,54.2 464.4,53.0 470.0,55.6 475.0,56.6 480.0,57.0 484.0,56.6 488.0,55.5 491.4,54.0 494.1,52.4 495.8,54.4 496.8,62.0 497.9,150.0 498.8,300.0 499.2,366.5 499.6,300.0 500.5,150.0 501.6,62.0 502.4,54.2 505.0,48.2 508.4,46.6 512.2,45.8 516.0,44.0 520.6,42.2 530.0,41.0 542.3,40.4 560.0,40.3 578.5,40.4 590.6,41.6 602.6,43.4 614.7,45.2 619.5,47.0 624.3,49.4 628.5,52.6 632.7,56.7 635.7,60.5 638.8,65.1 641.8,70.8 644.8,77.2 647.8,82.4 650.8,86.8 653.8,90.7 656.9,94.0 659.9,95.8 662.9,97.0 667.2,98.5 671.0,100.4 673.4,100.2 675.6,98.2 678.1,94.0 681.1,88.0 684.1,82.0 687.7,77.6 691.3,74.7 695.5,72.6 699.8,71.1 707.0,68.6 714.2,66.3 720.8,64.4 727.5,62.7 730.4,63.2 733.0,64.6 737.2,66.3 740.8,65.7 744.4,64.5 750.4,62.4 756.4,60.3 764.2,57.4 772.1,54.9 782.0,52.6 792.6,50.6 795.6,49.0 798.6,47.6 807.0,48.0 816.7,48.2 828.0,47.3 840.8,46.4 847.0,45.6 852.2,44.8 853.4,42.8 854.3,41.2 855.2,42.8 856.4,44.6 860.0,45.0 874.1,45.2 880.0,46.8 886.2,49.4 892.2,53.2 898.2,57.9 904.2,63.4 910.3,68.7 914.5,71.6 918.7,72.9 923.0,71.6 927.2,68.7 932.0,64.0 936.8,59.1 941.6,54.2 946.4,50.0 950.6,47.5 954.9,46.4 957.3,48.6 959.7,53.0 962.7,59.2 965.7,65.1 969.4,69.2 973.0,70.5 976.6,68.4 980.2,63.9 983.8,59.0 987.4,54.9 990.2,53.0 992.9,52.4 997.4,53.2 1001.9,54.9 1007.3,57.6 1012.7,60.9 1018.8,65.5 1024.8,70.5 1030.8,76.2 1036.9,82.0 1040.0,84.8 1046.0,92.0 1051.7,100.0 1059.0,106.4 1066.2,112.1 1072.2,117.6 1078.2,122.9 1084.2,127.6 1090.3,131.9 1096.3,136.0 1102.3,139.8 1108.4,143.6 1114.4,147.0 1120.4,149.9 1126.4,152.4 1132.4,154.4 1138.5,156.1 1144.5,157.3 1150.6,158.1 1156.6,158.5 1162.6,157.9 1168.6,156.7 1174.6,155.0 1180.7,153.0 1186.7,150.8 1192.7,148.2 1198.7,145.3 1204.8,142.2 1210.3,140.0 1215.4,138.2 1216.6,140.0 1217.8,143.4 1218.8,139.0 1219.9,135.0 1225.0,131.9 1230.1,128.6 1234.4,125.9 1238.6,123.2 1241.8,121.4 1244.8,120.1 1247.0,123.2 1249.4,128.6 1251.2,137.0 1253.0,147.9 1254.6,158.6 1256.1,168.4 1257.6,177.0 1259.3,184.6 1260.4,181.0 1261.5,174.4 1262.4,166.4 1263.3,157.5 1264.2,150.8 1265.1,145.5 1266.8,142.0 1268.7,139.4 1271.7,134.7 1274.7,129.8 1278.4,122.7 1282.0,115.3 1286.2,109.6 1290.4,104.5 1294.6,100.0 1298.9,96.0 1302.3,92.6 1304.2,90.9 1306.1,89.0 1308.0,88.2 1310.1,86.2 1312.3,85.1 1314.4,84.4 1316.4,83.9 1318.4,81.8 1320.4,81.3 1322.4,80.1 1324.4,79.8 1326.4,78.4 1328.4,77.7 1330.4,77.7 1332.4,75.9 1334.4,75.1 1336.5,74.1 1338.5,73.5 1340.8,73.0 1343.0,72.0 1345.7,75.0 1348.0,71.0 1350.6,69.9 1352.6,68.5 1354.6,69.3 1356.6,67.7 1358.6,66.8 1360.6,66.1 1362.6,65.7 1364.6,65.4 1366.6,63.5 1368.6,63.6 1370.6,63.3 1372.7,63.0 1374.7,61.5 1376.7,60.5 1378.7,61.2 1380.7,59.6 1382.7,59.1 1384.7,59.1 1386.7,57.9 1388.7,57.4 1390.7,56.8 1392.7,56.6 1394.7,55.7 1396.8,54.8 1398.8,55.5 1400.8,54.4 1402.8,55.7 1404.8,54.2 1406.8,53.9 1408.8,53.3 1410.8,53.0 1411.4,55.5 1412.0,57.9 1413.2,55.5 1414.4,53.0 1417.4,51.4 1420.0,49.6 1428.7,47.9 1434.0,46.0 1438.9,43.5 1441.8,47.9 1446.0,48.4 1451.0,47.6 1456.3,47.9 1459.2,39.2 1461.2,41.6 1463.5,43.5 1465.0,50.0 1466.4,59.5 1468.0,53.0 1470.0,47.9 1473.0,42.0 1475.9,36.3 1478.0,43.5 1481.0,38.0 1483.8,32.6 1485.2,45.0 1486.7,58.8 1489.0,50.0 1491.1,43.5 1493.0,35.0 1494.7,27.6 1496.2,43.0 1497.6,58.0 1499.4,51.0 1501.3,46.4 1504.0,45.4 1507.1,45.0 1510.6,43.4 1514.3,42.1 1515.8,50.8 1518.0,47.0 1521.6,45.0 1527.4,44.2 1533.2,43.5 1536.1,37.7 1537.5,68.2 1539.0,50.0 1540.4,43.5 1543.4,44.4 1546.2,45.0 1550.0,46.0 1553.0,44.4 1557.0,45.6 1561.0,44.2 1565.1,45.0 1567.6,43.4 1569.4,42.1 1571.6,44.6 1573.8,46.4 1652.0,46.4" stroke="#32cd32" stroke-width="4.5" />
<polyline points="579.1,29.5 581.2,26.6 583.3,25.3 585.2,26.8 586.9,30.1 587.5,40.0 588.1,48.2 590.6,42.2 591.8,52.0 593.0,65.7 595.4,45.8 596.6,62.0 597.8,83.2 600.2,42.2 601.4,55.0 602.6,71.7 603.6,40.0 604.4,0.0 605.6,58.0 606.8,0.0 607.6,30.0 608.6,36.2 612.3,36.2 613.2,50.0 614.1,66.9 617.1,68.1 619.5,54.2 621.9,66.3 624.3,69.3 626.1,100.0 629.1,98.9 632.7,67.5 635.0,62.0 637.6,57.9 638.6,64.0 641.0,144.2 644.0,138.2 646.4,150.9 650.0,112.9 652.7,156.9 654.9,106.3 657.6,150.9 659.9,84.4 661.5,121.3 664.2,100.0 665.8,91.0 667.0,121.0 668.2,106.0 670.3,164.1 672.1,57.9 674.5,56.7 676.3,71.1 680.5,62.1 682.9,82.0 687.1,62.7 689.0,66.0 690.7,88.0 695.0,89.2 697.4,66.9 698.6,102.5 701.6,108.0 704.6,86.8 706.4,87.0 707.5,116.5 708.8,80.2 711.8,88.6 713.0,49.4 716.1,50.6 719.1,72.3 721.5,100.0 725.1,68.7 727.5,83.2 729.0,35.0 730.5,102.5 733.5,108.5 735.0,143.6 738.6,123.8 740.3,92.6 742.9,114.7 744.8,94.0 748.0,96.8 749.8,89.2 752.2,31.9 753.6,115.5 755.5,112.0 757.7,56.1 759.5,98.9 761.9,83.2 763.2,109.8 765.5,92.8 767.4,105.5 770.3,88.0 772.1,85.6 774.6,95.6 776.3,44.6 778.7,39.8 781.2,67.5 784.2,62.7 786.0,48.2 788.4,75.9 790.8,48.8 793.8,61.5 796.2,54.2 799.2,68.7 801.0,48.2 804.7,47.6 807.1,67.5 808.9,69.3 813.1,60.9 816.7,70.5 819.1,57.3 823.4,60.9 828.2,52.2 831.8,65.1 836.0,62.1 838.4,58.5 841.4,71.7 844.4,72.9 846.4,62.4 848.6,82.4 851.6,86.0 853.5,104.8 855.7,112.7 858.1,111.5 859.9,124.7 862.3,134.4 865.9,123.5 868.4,135.6 870.2,118.7 872.6,129.0 874.4,122.0 876.2,136.8 878.0,116.3 880.4,134.4 881.6,142.0 883.5,154.5 885.9,146.0 887.1,175.0 890.1,146.6 892.5,200.3 895.0,171.3 897.4,218.4 900.4,224.4 903.6,234.6 907.6,220.8 908.8,210.0 910.6,191.8 912.4,208.7 913.6,183.4 916.1,181.6 919.1,202.1 921.5,197.9 922.7,219.6 925.7,206.9 927.5,216.0 929.3,206.3 932.9,220.2 935.3,190.6 938.4,209.9 941.4,192.4 943.2,212.9 946.2,212.3 949.2,228.6 952.2,226.2 955.0,201.5 957.6,232.2 960.7,202.1 963.1,231.0 966.1,214.7 968.7,178.6 972.1,213.5 975.7,203.9 978.7,215.9 981.8,221.4 983.9,186.4 986.0,215.3 987.5,184.0 991.2,222.0 995.6,193.6 1002.9,199.1 1004.7,172.5 1007.7,180.4 1009.5,173.2 1014.3,176.2 1014.9,165.3 1017.9,163.5 1020.3,170.7 1023.4,164.7 1026.4,173.8 1030.0,165.3 1031.2,172.5 1032.6,159.3 1035.4,174.7 1037.8,165.3 1040.2,153.4 1042.4,167.6 1044.6,130.1 1048.1,172.0 1050.5,174.8 1054.7,160.1 1058.2,172.8 1061.3,156.7 1063.8,167.5 1066.2,148.2 1070.1,129.5 1071.6,151.8 1077.0,137.4 1078.2,160.9 1080.6,149.4 1083.0,157.9 1086.1,153.0 1089.1,162.7 1091.5,171.1 1093.3,163.3 1095.7,169.3 1099.3,168.7 1102.9,159.1 1106.0,171.7 1109.6,157.9 1112.6,155.5 1117.4,172.3 1119.8,171.1 1122.2,153.0 1124.0,177.2 1126.4,180.8 1129.5,177.2 1131.3,171.7 1134.9,172.9 1138.5,174.1 1141.5,159.1 1143.3,165.1 1146.3,156.1 1149.3,165.7 1152.4,174.7 1156.6,162.7 1160.2,172.9 1163.2,163.3 1166.8,171.1 1169.8,162.7 1173.5,172.3 1176.5,163.9 1179.5,172.3 1182.5,159.1 1183.7,166.9 1186.4,153.0 1189.1,166.3 1192.7,156.1 1197.0,162.7 1200.0,161.3 1203.0,157.4 1206.3,162.2 1209.0,158.7 1210.8,143.8 1212.1,160.4 1216.3,148.0 1218.1,152.7 1221.1,153.3 1224.1,146.7 1227.7,140.6 1231.3,141.2 1235.0,135.8 1236.8,125.0 1241.0,128.6 1245.2,129.2 1247.6,150.3 1250.0,168.4 1251.8,174.4 1253.0,188.9 1255.5,193.7 1258.5,197.9 1260.3,191.3 1262.7,192.5 1264.5,174.4 1265.7,159.9 1268.1,163.5 1271.1,145.5 1273.5,141.8 1275.3,132.2 1278.4,127.4 1282.0,112.9 1285.6,105.7 1289.0,100.4 1292.7,94.0 1295.6,91.0 1298.7,88.6 1302.3,89.2 1307.2,82.0 1309.6,77.2 1312.0,78.4 1316.8,73.5 1322.8,71.1 1327.7,65.7 1333.7,62.1 1338.5,59.1 1344.5,53.6 1350.6,53.0 1356.6,48.2 1360.8,42.8 1363.8,45.2 1369.8,45.2 1378.3,41.0 1386.7,41.6 1392.7,40.4 1398.8,39.8 1404.8,40.4 1410.8,39.8 1418.1,40.4 1421.7,43.4 1424.0,41.4 1427.3,39.2 1433.0,39.9 1440.3,37.7 1446.1,42.1 1451.9,42.8 1457.0,46.4 1459.9,41.4 1464.6,42.4 1469.3,42.8 1476.6,45.0 1482.4,39.9 1488.2,43.5 1493.3,43.6 1498.4,44.3 1504.2,40.6 1508.6,41.6 1512.9,42.1 1521.6,41.4 1526.0,39.4 1530.3,37.0 1537.5,42.8 1543.3,41.4 1549.1,46.4 1554.9,52.2 1557.8,50.0 1563.6,58.0 1568.0,55.9 1570.9,60.2 1576.7,61.7 1581.8,63.8 1585.4,59.5 1589.0,69.6 1591.9,65.3 1594.1,68.9 1596.3,66.0 1599.2,72.5 1602.1,55.9 1605.0,63.8 1607.9,51.5 1611.5,69.6 1615.2,62.4 1617.3,66.7 1621.0,60.2 1624.6,65.3 1628.9,66.7 1631.8,55.9 1634.0,66.0 1636.9,42.1 1642.0,42.8 1645.6,50.8 1648.5,37.7 1650.7,33.4 1652.2,31.2" stroke="#000" stroke-width="4.3" stroke-linecap="round"/>
</g>
<g stroke="#939393" stroke-width="3.6" fill="#939393">
<line x1="671.4" y1="365.1" x2="1082.4" y2="365.1" stroke-width="3.8"/>
<line x1="682.9" y1="365.1" x2="682.9" y2="170.1"/>
<polygon stroke="none" points="682.9,155.1 674.3,172.0 691.5,172.0"/>
<line x1="831.6" y1="365.1" x2="831.6" y2="133.1"/>
<polygon stroke="none" points="831.6,118.1 823.0,135.0 840.2,135.0"/>
<line x1="871.0" y1="365.1" x2="871.0" y2="206.2"/>
<polygon stroke="none" points="871.0,191.2 862.4,208.1 879.6,208.1"/>
<line x1="1066.9" y1="365.1" x2="1066.9" y2="206.0"/>
<polygon stroke="none" points="1066.9,191.0 1058.3,207.9 1075.5,207.9"/>
</g>
<g stroke="#000" fill="none">
<rect x="95.6" y="9.0" width="1558.8" height="845.9" stroke-width="5"/>
</g>
<text transform="translate(202.00,894.40) scale(1.0132,1.0604)" font-size="40" fill="#000">3</text>
<text transform="translate(531.63,894.40) scale(0.9934,1.0604)" font-size="40" fill="#000">5</text>
<text transform="translate(965.71,894.40) scale(1.1003,1.0604)" font-size="40" fill="#000">10</text>
<text transform="translate(1227.38,894.40) scale(1.0815,1.0604)" font-size="40" fill="#000">15</text>
<text transform="translate(1412.53,894.40) scale(1.1101,1.0604)" font-size="40" fill="#000">20</text>
<text transform="translate(61.45,56.35) scale(1.0592,1.0604)" font-size="40" fill="#000">0</text>
<text transform="translate(61.90,219.02) scale(1.0072,1.0604)" font-size="40" fill="#000">1</text>
<text transform="translate(61.38,381.69) scale(1.0205,1.0604)" font-size="40" fill="#000">2</text>
<text transform="translate(62.03,544.36) scale(1.0132,1.0604)" font-size="40" fill="#000">3</text>
<text transform="translate(61.63,707.03) scale(1.0494,1.0604)" font-size="40" fill="#000">4</text>
<text transform="translate(62.06,869.70) scale(0.9934,1.0604)" font-size="40" fill="#000">5</text>
<text transform="translate(693.15,945.30) scale(1.1873,1.1213)" font-size="40" fill="#000">Wavelength</text><text transform="translate(956.76,945.30) scale(1.2000,1.1213)" font-size="40" fill="#000">(µm)</text>
<g transform="translate(40.7,432.9) rotate(-90)"><text transform="translate(-142.68,0.00) scale(1.1906,1.1213)" font-size="40" fill="#000">Optical</text><text transform="translate(20.24,0.00) scale(1.2203,1.1213)" font-size="40" fill="#000">depth</text></g>
<text transform="translate(642.38,445.95) scale(1.0734,1.1345)" font-size="40" font-weight="bold" fill="#939393">PAH emission bands</text>
<line x1="1191" y1="481.2" x2="1251.1" y2="481.2" stroke="#ffa500" stroke-width="4.5"/>
<text transform="translate(1271.40,489.90) scale(0.6927,0.7423)" font-size="40" fill="#000">H</text>
<text transform="translate(1292.47,494.30) scale(0.4932,0.5196)" font-size="40" fill="#000">2</text>
<text transform="translate(1305.61,489.90) scale(0.7220,0.7423)" font-size="40" fill="#000">O:NH</text>
<text transform="translate(1379.08,494.30) scale(0.4934,0.5196)" font-size="40" fill="#000">3</text>
<text transform="translate(1400.98,489.90) scale(0.8024,0.7423)" font-size="40" fill="#000">(10:1.6)</text><text transform="translate(1521.79,489.90) scale(0.7597,0.7423)" font-size="40" fill="#000">10K</text>
<line x1="1191" y1="523.3" x2="1251.1" y2="523.3" stroke="#008000" stroke-width="4.5"/>
<text transform="translate(1271.40,531.73) scale(0.6927,0.7423)" font-size="40" fill="#000">H</text>
<text transform="translate(1292.47,536.13) scale(0.4932,0.5196)" font-size="40" fill="#000">2</text>
<text transform="translate(1305.65,531.73) scale(0.7043,0.7423)" font-size="40" fill="#000">O:CO</text>
<text transform="translate(1378.43,536.13) scale(0.4932,0.5196)" font-size="40" fill="#000">2</text>
<text transform="translate(1400.57,531.73) scale(0.8028,0.7423)" font-size="40" fill="#000">(10:1)</text><text transform="translate(1494.67,531.73) scale(0.7597,0.7423)" font-size="40" fill="#000">10K</text>
<line x1="1191" y1="565.1" x2="1251.1" y2="565.1" stroke="#800080" stroke-width="4.5"/>
<text transform="translate(1271.13,573.56) scale(0.6994,0.7423)" font-size="40" fill="#000">CO:CO</text>
<text transform="translate(1363.53,577.96) scale(0.4932,0.5196)" font-size="40" fill="#000">2</text>
<text transform="translate(1385.67,573.56) scale(0.8034,0.7423)" font-size="40" fill="#000">(1:0.7)</text><text transform="translate(1488.68,573.56) scale(0.7597,0.7423)" font-size="40" fill="#000">10K</text>
<line x1="1191" y1="606.9" x2="1251.1" y2="606.9" stroke="#0000ff" stroke-width="4.5"/>
<text transform="translate(1271.13,615.39) scale(0.6994,0.7423)" font-size="40" fill="#000">CO:CO</text>
<text transform="translate(1363.53,619.79) scale(0.4932,0.5196)" font-size="40" fill="#000">2</text>
<text transform="translate(1385.67,615.39) scale(0.8042,0.7423)" font-size="40" fill="#000">(2:1)</text><text transform="translate(1461.85,615.39) scale(0.7614,0.7423)" font-size="40" fill="#000">70K</text>
<line x1="1191" y1="648.6" x2="1251.1" y2="648.6" stroke="#d2691e" stroke-width="4.5"/>
<text transform="translate(1271.16,657.22) scale(0.6837,0.7423)" font-size="40" fill="#000">CO</text>
<text transform="translate(1313.00,661.62) scale(0.4932,0.5196)" font-size="40" fill="#000">2</text>
<text transform="translate(1326.55,657.22) scale(0.7097,0.7423)" font-size="40" fill="#000">:CH</text>
<text transform="translate(1376.68,661.62) scale(0.4934,0.5196)" font-size="40" fill="#000">3</text>
<text transform="translate(1389.61,657.22) scale(0.7039,0.7423)" font-size="40" fill="#000">OH</text><text transform="translate(1441.66,657.22) scale(0.8042,0.7423)" font-size="40" fill="#000">(1:1)</text><text transform="translate(1517.95,657.22) scale(0.7597,0.7423)" font-size="40" fill="#000">10K</text>
<line x1="1191" y1="690.4" x2="1251.1" y2="690.4" stroke="#ff00ff" stroke-width="4.5"/>
<text transform="translate(1271.12,699.05) scale(0.7017,0.7423)" font-size="40" fill="#000">CO:CH</text>
<text transform="translate(1362.80,703.45) scale(0.4934,0.5196)" font-size="40" fill="#000">3</text>
<text transform="translate(1375.73,699.05) scale(0.7039,0.7423)" font-size="40" fill="#000">OH</text><text transform="translate(1427.78,699.05) scale(0.8042,0.7423)" font-size="40" fill="#000">(4:1)</text><text transform="translate(1504.07,699.05) scale(0.7597,0.7423)" font-size="40" fill="#000">15K</text>
<line x1="1191" y1="731.9" x2="1251.1" y2="731.9" stroke="#ff0000" stroke-width="4.5"/>
<text transform="translate(1271.28,740.88) scale(0.7296,0.7423)" font-size="40" fill="#000">Pure</text><text transform="translate(1342.32,740.88) scale(0.6837,0.7423)" font-size="40" fill="#000">CO</text><text transform="translate(1392.91,740.88) scale(0.8055,0.7423)" font-size="40" fill="#000">(mie)</text><text transform="translate(1476.43,740.88) scale(0.7597,0.7423)" font-size="40" fill="#000">10K</text>
<line x1="1191" y1="773.1" x2="1251.1" y2="773.1" stroke="#000000" stroke-width="4.5"/>
<text transform="translate(1271.15,782.71) scale(0.6884,0.7423)" font-size="40" fill="#000">CED</text><text transform="translate(1339.27,782.71) scale(0.8203,0.7423)" font-size="40" fill="#000">110</text><text transform="translate(1401.04,782.71) scale(0.7084,0.7423)" font-size="40" fill="#000">IRS4B</text>
<line x1="1191" y1="813.8" x2="1251.1" y2="813.8" stroke="#32cd32" stroke-width="4.5"/>
<text transform="translate(1271.32,824.54) scale(0.7751,0.7423)" font-size="40" fill="#000">Summed</text><text transform="translate(1405.33,824.54) scale(0.7883,0.7423)" font-size="40" fill="#000">lab</text><text transform="translate(1456.59,824.54) scale(0.7927,0.7423)" font-size="40" fill="#000">components</text>
</svg></body></html>
